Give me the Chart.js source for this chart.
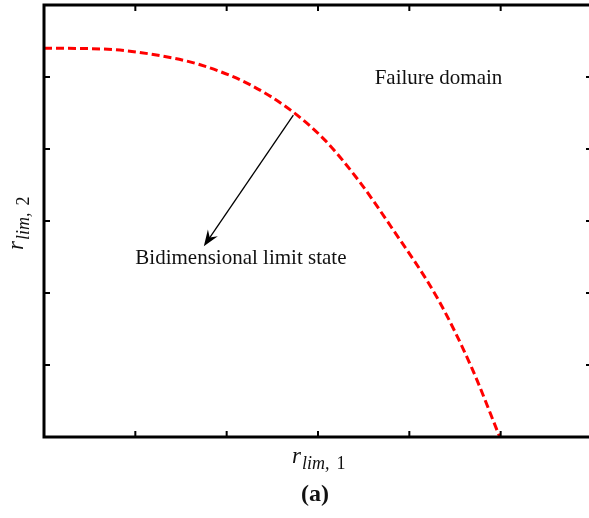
<!DOCTYPE html>
<html>
<head>
<meta charset="utf-8">
<script src="https://cdn.jsdelivr.net/npm/chart.js@4.4.0/dist/chart.umd.min.js"></script>
<style>
  html, body { margin: 0; padding: 0; background: #fff; overflow: hidden; }
  #wrap { position: relative; width: 596px; height: 518px; }
</style>
</head>
<body>
<div id="wrap"><canvas id="c" width="596" height="518"></canvas></div>
<script>
// limit state curve (r_lim,1 , r_lim,2)
const rLim1 = [0, 0.62, 1.16, 1.71, 2.26, 2.70, 3.07, 3.44, 3.80, 4.32, 4.68, 4.99];
const rLim2 = [5.40, 5.39, 5.32, 5.17, 4.89, 4.54, 4.13, 3.57, 2.92, 1.90, 0.97, 0];
const tickVals = [0, 1, 2, 3, 4, 5, 6];
const arrowFrom = [2.73, 4.47];
const arrowTo = [1.75, 2.65];
const notes = [
    { text: 'Failure domain', x: 3.62, y: 4.9 },
    { text: 'Bidimensional limit state', x: 1.0, y: 2.40 }
];

const serif = '"Liberation Serif", "DejaVu Serif", serif';

// cadre, graduations vers l'intérieur, flèche et textes
const decor = {
    id: 'decor',
    afterDatasetsDraw(chart) {
        const { ctx, chartArea: a, scales } = chart;
        const sx = scales.x, sy = scales.y;
        ctx.save();
        ctx.strokeStyle = '#000';

        // ticks
        ctx.lineWidth = 2;
        ctx.beginPath();
        tickVals.forEach(v => {
            const px = sx.getPixelForValue(v);
            ctx.moveTo(px, a.bottom); ctx.lineTo(px, a.bottom - 6);
            ctx.moveTo(px, a.top); ctx.lineTo(px, a.top + 6);
            const py = sy.getPixelForValue(v);
            ctx.moveTo(a.left, py); ctx.lineTo(a.left + 6, py);
            ctx.moveTo(a.right, py); ctx.lineTo(a.right - 6, py);
        });
        ctx.stroke();

        // box
        ctx.lineWidth = 3;
        ctx.strokeRect(a.left, a.top, a.right - a.left, a.bottom - a.top);

        // arrow
        const x0 = sx.getPixelForValue(arrowFrom[0]), y0 = sy.getPixelForValue(arrowFrom[1]);
        const x1 = sx.getPixelForValue(arrowTo[0]), y1 = sy.getPixelForValue(arrowTo[1]);
        const ang = Math.atan2(y1 - y0, x1 - x0);
        const hl = 16, hw = 6;
        ctx.lineWidth = 1.3;
        ctx.beginPath();
        ctx.moveTo(x0, y0);
        ctx.lineTo(x1 - Math.cos(ang) * hl * 0.6, y1 - Math.sin(ang) * hl * 0.6);
        ctx.stroke();
        ctx.fillStyle = '#000';
        ctx.beginPath();
        ctx.moveTo(x1, y1);
        ctx.lineTo(x1 - Math.cos(ang) * hl - Math.sin(ang) * hw, y1 - Math.sin(ang) * hl + Math.cos(ang) * hw);
        ctx.lineTo(x1 - Math.cos(ang) * hl * 0.65, y1 - Math.sin(ang) * hl * 0.65);
        ctx.lineTo(x1 - Math.cos(ang) * hl + Math.sin(ang) * hw, y1 - Math.sin(ang) * hl - Math.cos(ang) * hw);
        ctx.closePath();
        ctx.fill();

        // notes
        ctx.fillStyle = '#111';
        ctx.font = '21px ' + serif;
        ctx.textBaseline = 'alphabetic';
        ctx.textAlign = 'left';
        notes.forEach(n => {
            ctx.fillText(n.text, sx.getPixelForValue(n.x), sy.getPixelForValue(n.y));
        });

        // axis titles
        const drawLabel = (sub) => {
            ctx.font = 'italic 23px ' + serif;
            ctx.fillText('r', 0, 0);
            const w = ctx.measureText('r').width;
            ctx.font = 'italic 18px ' + serif;
            ctx.fillText('lim,', w + 1, 6);
            const w2 = ctx.measureText('lim,').width;
            ctx.font = '18px ' + serif;
            ctx.fillText(sub, w + 1 + w2 + 7, 6);
        };
        ctx.save();
        ctx.translate(292, 463);
        drawLabel('1');
        ctx.restore();

        ctx.save();
        ctx.translate(23, 250);
        ctx.rotate(-Math.PI / 2);
        drawLabel('2');
        ctx.restore();

        ctx.font = 'bold 24px ' + serif;
        ctx.textAlign = 'center';
        ctx.fillText('(a)', 315, 501);
        ctx.restore();
    }
};

const ctx = document.getElementById('c').getContext('2d');
new Chart(ctx, {
    type: 'line',
    data: {
        datasets: [{
            data: rLim1.map((v, i) => ({ x: v, y: rLim2[i] })),
            borderColor: '#ff0000',
            borderWidth: 3,
            borderDash: [8, 4],
            pointRadius: 0,
            cubicInterpolationMode: 'monotone',
            fill: false
        }]
    },
    options: {
        responsive: false,
        animation: false,
        layout: { padding: { left: 44, top: 5, right: 4, bottom: 81 } },
        plugins: { legend: { display: false }, tooltip: { enabled: false } },
        scales: {
            x: { type: 'linear', min: 0, max: 6, display: false },
            y: { type: 'linear', min: 0, max: 6, display: false }
        }
    },
    plugins: [decor]
});
</script>
</body>
</html>
